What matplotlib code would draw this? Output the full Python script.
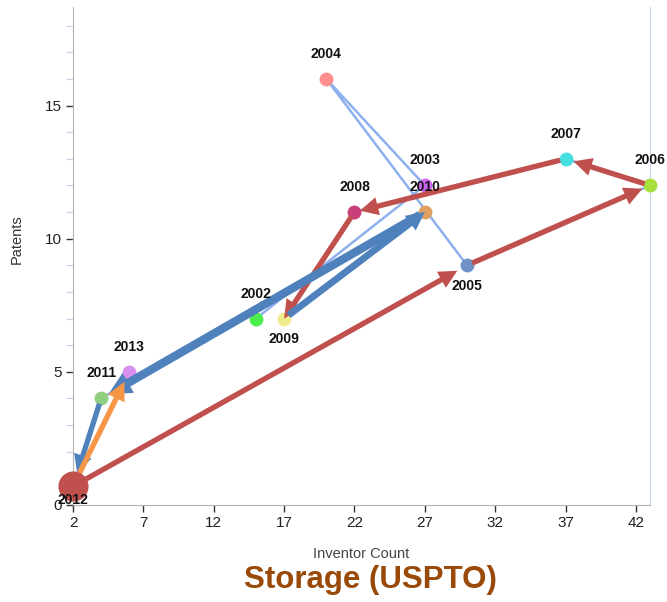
import numpy as np
import matplotlib
matplotlib.use('Agg')
import matplotlib.pyplot as plt
from matplotlib.patches import FancyArrowPatch
from matplotlib.ticker import MultipleLocator

plt.rcParams['font.family'] = ['Liberation Sans', 'DejaVu Sans']

# donnees
annees = [2002, 2003, 2004, 2005, 2006, 2007, 2008, 2009, 2010, 2011, 2012, 2013]
inventeurs = [15, 27, 20, 30, 43, 37, 22, 17, 27, 4, 2, 6]
brevets = [7, 12, 16, 9, 12, 13, 11, 7, 11, 4, 0.7, 5]
couleurs = ['#4cee4c', '#cc66ee', '#ff8f8f', '#6f93c8', '#a6e03a', '#44e0e0',
            '#c8407a', '#f0ec8c', '#e0a060', '#8fd080', '#c0504d', '#d890ee']
tailles = [100, 100, 100, 100, 100, 100, 100, 100, 100, 100, 470, 100]
etiquette_dessous = [2005, 2009, 2012]

# fleches (annee depart, annee arrivee, couleur, largeur)
fleche_de = [2012, 2005, 2006, 2007, 2008, 2009, 2010, 2011, 2012]
fleche_vers = [2005, 2006, 2007, 2008, 2009, 2010, 2011, 2012, 2013]
fleche_coul = ['#c0504d'] * 5 + ['#4f81bd'] * 3 + ['#f79646']
fleche_larg = [0.35, 0.35, 0.35, 0.35, 0.35, 0.45, 0.55, 0.35, 0.35]
fleche_retrait = [8, 6, 6, 4, 0, 0, 6, 10, 8]

x_ticks = [2, 7, 12, 17, 22, 27, 32, 37, 42]
y_ticks = [0, 5, 10, 15]

fig = plt.figure(figsize=(6.67, 6.02), dpi=100)
ax = fig.add_axes([73/667, 97/602, 577/667, 498/602])
ax.set_xlim(2, 43)
ax.set_ylim(0, 18.7)

pos = {a: (x, y) for a, x, y in zip(annees, inventeurs, brevets)}

# ligne fine qui relie les annees
ax.plot(inventeurs, brevets, color='#8db0ee', lw=1.8, zorder=2, solid_capstyle='round')

for a, x, y, c, s in zip(annees, inventeurs, brevets, couleurs, tailles):
    ax.scatter(x, y, s=s, color=c, zorder=5 if s > 200 else 3, linewidths=0, clip_on=False)

for d, v, c, w, r in zip(fleche_de, fleche_vers, fleche_coul, fleche_larg, fleche_retrait):
    hw = 1.2 if w < 0.5 else 1.5
    fl = FancyArrowPatch(pos[d], pos[v], arrowstyle=f'simple,tail_width={w},head_width={hw},head_length={hw}',
                         mutation_scale=11, color=c, lw=0, shrinkA=4, shrinkB=r, zorder=4, clip_on=False)
    ax.add_patch(fl)

for a, x, y in zip(annees, inventeurs, brevets):
    if a in etiquette_dessous:
        dy = -10 if a == 2012 else -15
    else:
        dy = 18
    ax.annotate(str(a), (x, y), xytext=(0, dy), textcoords='offset points',
                ha='center', va='center', fontsize=10, fontweight='bold', color='#111111', zorder=6)

ax.set_xticks(x_ticks)
ax.set_yticks(y_ticks)
ax.yaxis.set_minor_locator(MultipleLocator(1))
ax.tick_params(axis='both', which='major', direction='out', length=5, width=1, color='#333333',
               labelsize=11, labelcolor='#222222', pad=3)
ax.tick_params(axis='y', which='minor', direction='out', length=5, width=0.8, color='#c8d2e6')

ax.spines['top'].set_visible(False)
ax.spines['left'].set_color('#b4b4b4')
ax.spines['bottom'].set_color('#b4b4b4')
ax.spines['right'].set_color('#c8d8f4')
ax.spines['right'].set_linewidth(0.8)

ax.set_xlabel('Inventor Count', fontsize=10.5, color='#444444', labelpad=12)
fig.text(17/667, 1 - 239/602, 'Patents', rotation=90, ha='center', va='center', fontsize=10.5, color='#333333')

fig.text(370/667, 1 - 580/602, 'Storage (USPTO)', ha='center', va='center', fontsize=22.5,
         fontweight='bold', color='#9a4a08')

fig.savefig('out.png', dpi=100)
